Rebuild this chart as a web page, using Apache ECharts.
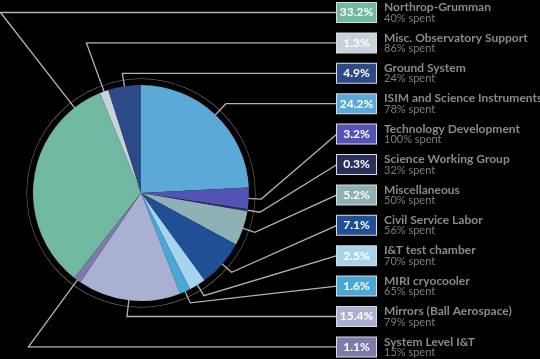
<!DOCTYPE html>
<html><head><meta charset="utf-8">
<script src="https://cdn.jsdelivr.net/npm/echarts@6/dist/echarts.min.js"></script>
<style>html,body{margin:0;padding:0;background:#000}#c{width:540px;height:359px}</style>
</head><body><div id="c"></div>
<script>
// ---- data ----
const categories = ['Northrop-Grumman','Misc. Observatory Support','Ground System','ISIM and Science Instruments','Technology Development','Science Working Group','Miscellaneous','Civil Service Labor','I&T test chamber','MIRI cryocooler','Mirrors (Ball Aerospace)','System Level I&T'];
const shares = [33.2, 1.3, 4.9, 24.2, 3.2, 0.3, 5.2, 7.1, 2.5, 1.6, 15.4, 1.1];
const spent = [40, 86, 24, 78, 100, 32, 50, 56, 70, 65, 79, 15];
const topCategory = 'ISIM and Science Instruments';

// ---- style ----
const palette = ['#70b8a2','#c6d3d8','#2d4a88','#5aa9d7','#5353b6','#2a2e5a','#8fb0b5','#1f4f95','#a8d3ee','#49a8d8','#aab0d2','#7d7ba9'];
const FONT = 'Lato';
const CX = 141, CY = 193, R = 108;
const BOX_X = 337, TEXT_X = 384, SLOT0 = 12.5, SLOT_GAP = 30.4;

const total = shares.reduce((a, b) => a + b, 0);
const topIdx = categories.indexOf(topCategory);
const before = shares.slice(0, topIdx).reduce((a, b) => a + b, 0);
const startAngle = 90 + 360 * before / total;
const a0 = -startAngle * Math.PI / 180;
const mids = [];
let cum = 0;
shares.forEach(v => { mids.push(a0 + 2 * Math.PI * (cum + v / 2) / total); cum += v; });
const slotY = i => SLOT0 + i * SLOT_GAP;

const rich = {};
palette.forEach((c, i) => {
  rich['p' + i] = { width: 39, height: 19, lineHeight: 19, align: 'center', backgroundColor: c,
    borderColor: '#dcdcdc', borderWidth: 1, color: '#ffffff', fontSize: 12, fontWeight: 'bold', fontFamily: FONT };
});

const chart = echarts.init(document.getElementById('c'), null, { renderer: 'canvas' });
chart.setOption({
  backgroundColor: '#000000',
  animation: false,
  series: [
    {
      type: 'pie', center: [CX, CY], radius: [R - 0.5 + 6.5, R + 6.5], silent: true,
      data: [{ value: 1, name: 'ring' }],
      itemStyle: { color: '#8e8678' }, label: { show: false }, labelLine: { show: false },
      emphasis: { disabled: true }, z: 1
    },
    {
      type: 'pie', center: [CX, CY], radius: R, startAngle: startAngle, clockwise: true, silent: true,
      avoidLabelOverlap: false, z: 2,
      emphasis: { disabled: true },
      data: categories.map((n, i) => ({ name: n, value: shares[i], itemStyle: { color: palette[i] } })),
      label: {
        show: true, position: 'outside',
        formatter: p => '{p' + p.dataIndex + '|' + shares[p.dataIndex].toFixed(1) + '%}',
        rich: rich
      },
      labelLine: { show: true, showAbove: true, minTurnAngle: 0, lineStyle: { color: '#b4b4b4', width: 1.3 } },
      labelLayout: function (p) {
        const i = p.dataIndex;
        const ly = slotY(i);
        const dx = Math.cos(mids[i]), dy = Math.sin(mids[i]);
        const t = Math.abs(dy) > 1e-6 ? (ly - CY) / dy : -1;
        let anchor, elbow;
        if (t > R * 1.02) {
          let ex = CX + t * dx, clamped = false;
          if (ex < 0.5) { ex = 0.5; clamped = true; }
          elbow = [ex, ly];
          const vx = ex - CX, vy = ly - CY, vl = Math.hypot(vx, vy);
          const ar = clamped ? R : R * 0.89;
          anchor = [CX + vx / vl * ar, CY + vy / vl * ar];
        } else {
          anchor = [CX + dx * R * 0.89, CY + dy * R * 0.89];
          elbow = [CX + dx * R * 1.115, CY + dy * R * 1.115];
        }
        return { x: BOX_X, y: ly, align: 'left', verticalAlign: 'middle', labelLinePoints: [anchor, elbow, [BOX_X, ly]] };
      }
    },
    {
      type: 'pie', center: [CX, CY], radius: R, startAngle: startAngle, clockwise: true, silent: true,
      avoidLabelOverlap: false, z: 0,
      emphasis: { disabled: true },
      data: categories.map((n, i) => ({ name: n, value: shares[i] })),
      itemStyle: { color: 'rgba(0,0,0,0)' },
      label: {
        show: true, position: 'outside',
        formatter: p => '{n|' + categories[p.dataIndex] + '}\n{s|' + spent[p.dataIndex] + '% spent}',
        rich: {
          n: { fontSize: 12, fontWeight: 'bold', color: '#8a8a8a', lineHeight: 11, fontFamily: FONT },
          s: { fontSize: 11, color: '#7e7e7e', lineHeight: 10.5, fontFamily: FONT }
        }
      },
      labelLine: { show: false },
      labelLayout: p => ({ x: TEXT_X, y: slotY(p.dataIndex), align: 'left', verticalAlign: 'middle' })
    }
  ]
});
</script></body></html>
